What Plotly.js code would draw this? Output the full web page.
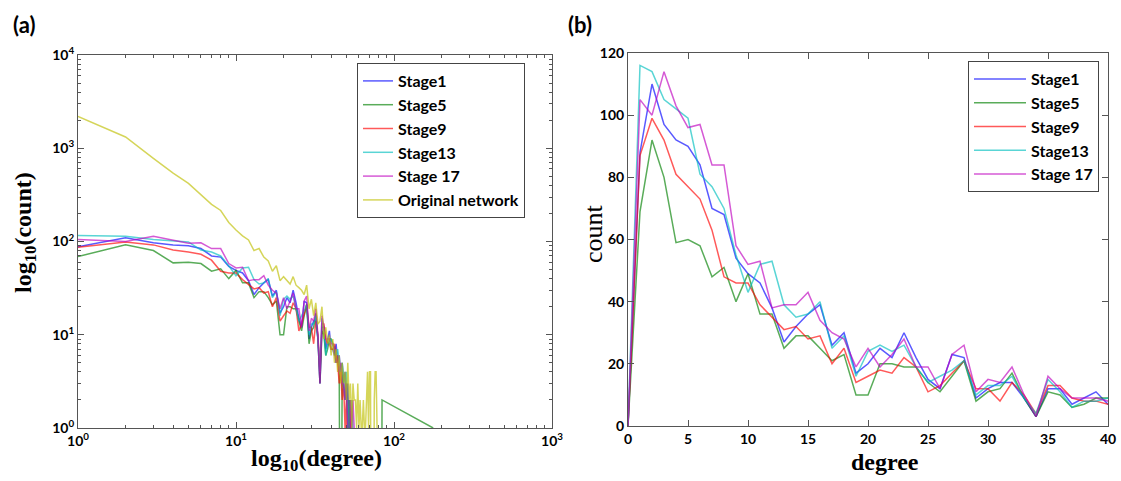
<!DOCTYPE html>
<html>
<head>
<meta charset="utf-8">
<script src="https://cdn.plot.ly/plotly-3.0.1.min.js"></script>
<style>html,body{margin:0;padding:0;background:#fff;}#chart{width:1121px;height:481px;}</style>
</head>
<body>
<div id="chart"></div>
<script>
// Degree distributions: index = degree (0, 1, 2, ...), value = count
const stageNames = ["Stage1", "Stage5", "Stage9", "Stage13", "Stage 17"];
const stage1  = [0,88,110,97,92,90,84,70,68,54,49,46,38,27,32,36,39,26,30,17,20,25,22,30,22,15,12,23,22,9,12,14,14,9,3,12,12,7,9,11,7,
                 7,6,8,5,6,4,5,3,4,2,3,1,2,0,1,0,1,0];
const stage5  = [0,69,92,80,59,60,58,48,51,40,49,36,36,25,29,29,25,21,23,10,10,20,20,19,19,14,11,16,21,8,11,12,17,9,3,11,10,6,7,9,9,
                 8,7,5,6,4,0,4,3,2,3,1,2,0,1,0,1,0,0,0,0,0,0,0,0,0,0,0,0,0,0,0,0,0,0,0,0,0,0,0,0,0,0,0,2];
const stage5HubDegree = [177];
const stage5HubCount  = [1];
const stage9  = [0,87,99,92,81,77,73,63,48,46,46,39,35,31,32,28,29,20,25,14,16,18,17,22,19,11,13,17,21,12,12,8,14,10,4,13,13,9,8,8,7,
                 7,8,6,5,3,4,2,3,1,2,0,2,1,0];
const stage13 = [0,116,114,105,102,99,81,77,70,55,43,52,53,39,35,36,40,25,29,16,24,26,24,26,19,14,16,18,21,10,13,13,16,9,4,15,11,6,8,8,9,
                 8,7,6,7,5,4,5,3,2,4,1,2,0,2,1,0,1,0,0,1,0,0,0,1,0];
const stage17 = [0,105,100,114,103,96,97,84,84,58,52,53,38,39,39,43,34,30,28,19,25,19,23,28,19,19,12,23,26,11,15,14,19,10,3,16,12,9,9,9,8,
                 8,7,5,6,4,5,3,3,2,3,1,0,2,1,2,1,0];
const originalName = "Original network";
const original = [null,2200,1320,780,540,420,320,250,215,160,133,115,104,80,84,68,62,48,55,38,42,38,35,42,34,32,30,27,34,19,24,16,22,13,14,20,9,12,8,10,6,
                  9,5,7,4,6,3,5,3,4,2,5,2,3,1,3,2,2,1,3,1,2,1,1,2,1,1,2,4,1,4,4,0,1,0,2,4,4,0,0,0,0,0,0,0];

const stageSeries = [stage1, stage5, stage9, stage13, stage17];
const stageColors = ["rgb(0,0,255)", "rgb(0,128,0)", "rgb(255,0,0)", "rgb(0,191,191)", "rgb(191,0,191)"];
const originalColor = "rgb(191,191,0)";

const traces = [];
// Left panel (log-log); zero counts clipped below the axis as matplotlib does
function logPanelTrace(vals, name, color, extraX, extraY) {
  const x = [], y = [];
  vals.forEach((v, d) => { if (d > 0 && v !== null) { x.push(d); y.push(v > 0 ? v : 1e-3); } });
  if (extraX) { extraX.forEach((d, i) => { x.push(d); y.push(extraY[i]); }); }
  return {x, y, name, type: "scatter", mode: "lines", xaxis: "x", yaxis: "y",
          line: {color, width: 1.5}, opacity: 0.65, legend: "legend"};
}
stageSeries.forEach((s, i) => {
  if (i === 1) traces.push(logPanelTrace(s, stageNames[i], stageColors[i], stage5HubDegree, stage5HubCount));
  else traces.push(logPanelTrace(s, stageNames[i], stageColors[i]));
});
traces.push(logPanelTrace(original, originalName, originalColor));

// Right panel (linear)
stageSeries.forEach((s, i) => {
  traces.push({x: s.map((v, d) => d), y: s, name: stageNames[i], type: "scatter", mode: "lines",
               xaxis: "x2", yaxis: "y2", line: {color: stageColors[i], width: 1.5}, opacity: 0.65, legend: "legend2"});
});

const W = 1121, H = 481;
const px = v => v / W, py = v => 1 - v / H;
const tickFont = {family: "Lato", size: 14, color: "#000", weight: "bold"};
const axisCommon = {showgrid: false, zeroline: false, showline: true, linecolor: "#555", linewidth: 1,
                    mirror: "allticks", ticks: "inside", ticklen: 6, tickcolor: "#555", tickfont: tickFont};
const minorLog = (decades) => {
  const v = [];
  for (let p = 0; p < decades; p++) for (let k = 2; k <= 9; k++) v.push(k * Math.pow(10, p));
  return {tickmode: "array", tickvals: v, ticks: "inside", ticklen: 3, tickcolor: "#555"};
};
const pow10 = n => "10<sup>" + n + "</sup>";

const layout = {
  width: W, height: H,
  margin: {l: 0, r: 0, t: 0, b: 0},
  paper_bgcolor: "#fff", plot_bgcolor: "#fff",
  font: {family: "Lato", color: "#000"},
  xaxis: Object.assign({}, axisCommon, {type: "log", range: [0, 3], domain: [px(78), px(552)], anchor: "y",
          tickmode: "array", tickvals: [1, 10, 100, 1000], ticktext: [0,1,2,3].map(pow10), minor: minorLog(3)}),
  yaxis: Object.assign({}, axisCommon, {type: "log", range: [0, 4], domain: [py(428), py(55)], anchor: "x",
          tickmode: "array", tickvals: [1, 10, 100, 1000, 10000], ticktext: [0,1,2,3,4].map(pow10), minor: minorLog(4)}),
  xaxis2: Object.assign({}, axisCommon, {range: [0, 40], domain: [px(628), px(1108)], anchor: "y2", dtick: 5, tick0: 0}),
  yaxis2: Object.assign({}, axisCommon, {range: [0, 120], domain: [py(426), py(53)], anchor: "x2", dtick: 20, tick0: 0}),
  legend: {x: px(357), y: py(63), xanchor: "left", yanchor: "top", bgcolor: "#fff", bordercolor: "#444", borderwidth: 1,
           font: {family: "Lato", size: 16, weight: "bold", color: "#000"}, tracegroupgap: 0},
  legend2: {x: px(968), y: py(61), xanchor: "left", yanchor: "top", bgcolor: "#fff", bordercolor: "#444", borderwidth: 1,
            itemwidth: 52,
            font: {family: "Lato", size: 16, weight: "bold", color: "#000"}, tracegroupgap: 0},
  annotations: [
    {text: "(a)", x: px(11), y: py(24), xref: "paper", yref: "paper", xanchor: "left", yanchor: "middle", showarrow: false,
     font: {family: "Lato", size: 22, weight: "bold", color: "#000"}},
    {text: "(b)", x: px(566), y: py(24), xref: "paper", yref: "paper", xanchor: "left", yanchor: "middle", showarrow: false,
     font: {family: "Lato", size: 22, weight: "bold", color: "#000"}},
    {text: "log<sub>10</sub>(count)", x: px(25), y: py(233), xref: "paper", yref: "paper", xanchor: "center", yanchor: "middle",
     textangle: -90, showarrow: false, font: {family: "Liberation Serif", size: 24, weight: "bold", color: "#000"}},
    {text: "log<sub>10</sub>(degree)", x: px(316), y: py(460), xref: "paper", yref: "paper", xanchor: "center", yanchor: "middle",
     showarrow: false, font: {family: "Liberation Serif", size: 24, weight: "bold", color: "#000"}},
    {text: "count", x: px(593), y: py(234), xref: "paper", yref: "paper", xanchor: "center", yanchor: "middle",
     textangle: -90, showarrow: false, font: {family: "Liberation Serif", size: 26, color: "#000"}},
    {text: "degree", x: px(885), y: py(462), xref: "paper", yref: "paper", xanchor: "center", yanchor: "middle",
     showarrow: false, font: {family: "Liberation Serif", size: 24, weight: "bold", color: "#000"}}
  ]
};

Plotly.newPlot("chart", traces, layout, {displayModeBar: false, staticPlot: true});
</script>
</body>
</html>
